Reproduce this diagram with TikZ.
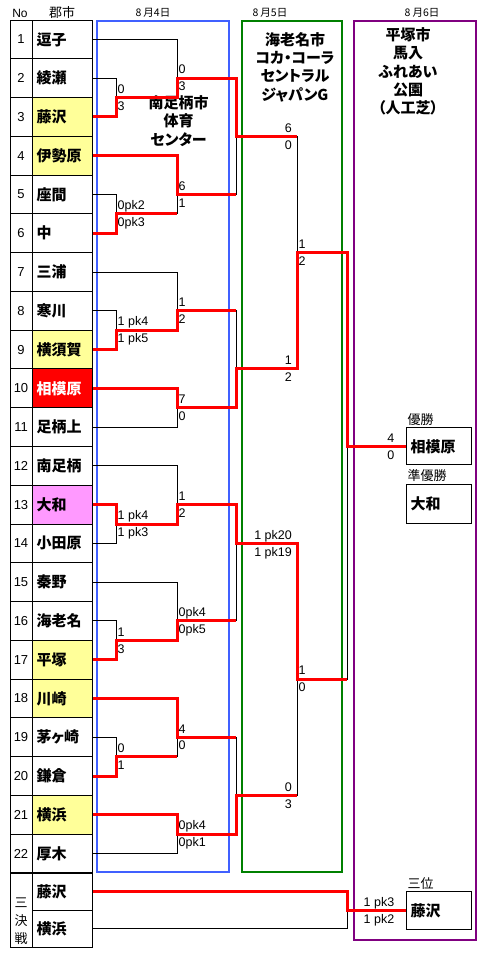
\documentclass[tikz,border=0pt]{standalone}
\usepackage{fontspec}
\setmainfont{Liberation Sans}
\newfontfamily\jp[RawFeature=+palt]{Noto Sans CJK JP}
\usetikzlibrary{positioning}

\definecolor{cellyel}{RGB}{255,255,153}
\definecolor{cellpink}{RGB}{255,153,255}
\definecolor{boxblue}{RGB}{64,96,255}
\definecolor{boxgreen}{RGB}{0,128,0}
\definecolor{boxpurple}{RGB}{128,0,128}

\tikzset{
  team/.style={draw, line width=1pt, anchor=west, minimum width=60pt, minimum height=38.77pt,
    text width=52pt, inner xsep=4pt, inner ysep=0pt, align=left,
    font=\jp\bfseries\fontsize{15}{15}\selectfont},
  numcell/.style={draw, line width=1pt, minimum width=22pt, minimum height=38.77pt, inner sep=0pt,
    font=\fontsize{13}{13}\selectfont},
  plainrow/.style={fill=white},
  yelrow/.style={fill=cellyel},
  pinkrow/.style={fill=cellpink},
  redrow/.style={fill=red, text=white},
  score/.style={inner xsep=1.5pt, inner ysep=4pt, text height=8.5pt, text depth=0pt,
    font=\fontsize{12.5}{12.5}\selectfont},
  wire/.style={line width=1pt},
  winwire/.style={red, line width=3pt},
  venue/.style={align=center, font=\jp\bfseries\fontsize{15}{18.3}\selectfont},
  result/.style={draw, line width=1pt, text width=57pt, inner xsep=4pt, inner ysep=0pt, align=left,
    anchor=west, font=\jp\bfseries\fontsize{15}{15}\selectfont},
  caption/.style={anchor=south west, inner sep=1.5pt, font=\jp\fontsize{13}{13}\selectfont},
  dayhead/.style={font=\jp\fontsize{10.5}{10.5}\selectfont}
}

\begin{document}
\begin{tikzpicture}[x=1pt, y=-1pt,
  declare function={yc(\i)=20+38.77*(\i-0.5); yb(\i)=20+38.77*\i;}]
  \useasboundingbox (0,0) rectangle (480,953);

  % Draw the venue boxes
  \draw[boxblue, line width=2pt] (97,21) rectangle (229,872);
  \draw[boxgreen, line width=2pt] (242,21) rectangle (342,872);
  \draw[boxpurple, line width=2pt] (354,21) rectangle (476,940);

  % Headers and dates
  \node (hno) at (20,13) {\fontsize{12}{12}\selectfont No};
  \node (hcity) at (62,13) {\jp\fontsize{13}{13}\selectfont 郡市};
  \node[dayhead] (day4) at (153,13) {8\hspace{2pt}月4日};
  \node[dayhead] (day5) at (270,13) {8\hspace{2pt}月5日};
  \node[dayhead] (day6) at (422,13) {8\hspace{2pt}月6日};

  % Venue names
  \node[venue] (venue4) at (178.5,121) {南足柄市\\体育\\センター};
  \node[venue] (venue5) at (295,67) {海老名市\\コカ・コーラ\\セントラル\\ジャパンG};
  \node[venue] (venue6) at (408,71.5) {平塚市\\馬入\\ふれあい\\公園\\（人工芝）};

  % Draw the table of teams
  \foreach \i/\name/\kind in {1/逗子/plainrow, 2/綾瀬/plainrow, 3/藤沢/yelrow, 4/伊勢原/yelrow,
      5/座間/plainrow, 6/中/plainrow, 7/三浦/plainrow, 8/寒川/plainrow, 9/横須賀/yelrow,
      10/相模原/redrow, 11/足柄上/plainrow, 12/南足柄/plainrow, 13/大和/pinkrow,
      14/小田原/plainrow, 15/秦野/plainrow, 16/海老名/plainrow, 17/平塚/yelrow,
      18/川崎/yelrow, 19/茅ヶ崎/plainrow, 20/鎌倉/plainrow, 21/横浜/yelrow, 22/厚木/plainrow}
  {
    \node[numcell] (n\i) at (21,{yc(\i)}) {\i};
    \node[team, \kind] (t\i) at (32,{yc(\i)}) {\name};
  }

  % Third place rows
  \draw[line width=1pt] (10,873) rectangle (32,947.5);
  \node[align=center, font=\jp\fontsize{13}{18}\selectfont] (thirdmark) at (21,921) {三\\決\\戦};
  \node[team, minimum height=37.5pt] (t23) at (32,891.75) {藤沢};
  \node[team, minimum height=37.5pt] (t24) at (32,928.75) {横浜};

  % Result boxes
  \node[result, minimum height=37pt] (champ) at (406,{yb(11)}) {相模原};
  \node[result, minimum height=39pt] (second) at (406,503.5) {大和};
  \node[result, minimum height=38pt] (third) at (406,910.5) {藤沢};
  \node[caption] (lchamp) at (champ.north west) {優勝};
  \node[caption] (lsecond) at (second.north west) {準優勝};
  \node[caption] (lthird) at (third.north west) {三位};

  % Joints of each round
  \foreach \k/\r in {23/2, 56/5, 89/8, 1314/13, 1617/16, 1920/19}
    \coordinate (k\k) at (116,{yb(\r)});
  \coordinate (j1) at (177,{yc(2)});
  \coordinate (j4) at (177,{yc(5)});
  \coordinate (j7) at (177,{yc(8)});
  \coordinate (j10) at (177,{yb(10)});
  \coordinate (j12) at (177,{yc(13)});
  \coordinate (j15) at (177,{yc(16)});
  \coordinate (j18) at (177,{yc(19)});
  \coordinate (j21) at (177,{yb(21)});
  \coordinate (s1) at (236,{yb(3)});
  \coordinate (s2) at (236,{yb(9)});
  \coordinate (s3) at (236,{yc(14)});
  \coordinate (s4) at (236,{yb(20)});
  \coordinate (semi1) at (297,{yb(6)});
  \coordinate (semi2) at (297,{yb(17)});
  \coordinate (fin) at (347,{yb(11)});
  \coordinate (bronze) at (347,910.5);

  % Draw the bracket lines
  \foreach \t/\k in {2/23, 3/23, 5/56, 6/56, 8/89, 9/89, 13/1314, 14/1314,
      16/1617, 17/1617, 19/1920, 20/1920}
    \draw[wire] (t\t.east) -| (k\k);
  \foreach \a/\b in {t1.east/j1, k23/j1, t4.east/j4, k56/j4, t7.east/j7, k89/j7,
      t10.east/j10, t11.east/j10, t12.east/j12, k1314/j12, t15.east/j15, k1617/j15,
      t18.east/j18, k1920/j18, t21.east/j21, t22.east/j21,
      j1/s1, j4/s1, j7/s2, j10/s2, j12/s3, j15/s3, j18/s4, j21/s4,
      s1/semi1, s2/semi1, s3/semi2, s4/semi2, semi1/fin, semi2/fin,
      t23.east/bronze, t24.east/bronze}
    \draw[wire] (\a) -| (\b);
  \draw[wire] (fin) -- (champ.west);
  \draw[wire] (bronze) -- (third.west);

  % Draw the winning paths
  \draw[winwire] (t3.east) -| (k23) -| (j1) -| (s1) -- (s1 -| semi1);
  \draw[winwire] (t4.east) -| (j4) -- (j4 -| s1);
  \draw[winwire] (t6.east) -| (k56) -- (k56 -| j4);
  \draw[winwire] (t9.east) -| (k89) -| (j7) -- (j7 -| s2);
  \draw[winwire] (t10.east) -| (j10) -| (s2) -| (semi1) -| (fin) -- (champ.west);
  \draw[winwire] (t13.east) -| (k1314) -| (j12) -| (s3) -| (semi2) -- (semi2 -| fin);
  \draw[winwire] (t17.east) -| (k1617) -| (j15) -- (j15 -| s3);
  \draw[winwire] (t18.east) -| (j18) -- (j18 -| s4);
  \draw[winwire] (t20.east) -| (k1920) -- (k1920 -| j18);
  \draw[winwire] (t21.east) -| (j21) -| (s4) -- (s4 -| semi2);
  \draw[winwire] (t23.east) -| (bronze) -- (third.west);

  % Scores of the first two rounds and the semi finals
  \foreach \c/\up/\dn in {k23/0/3, k56/0pk2/0pk3, k89/1 pk4/1 pk5, k1314/1 pk4/1 pk3,
      k1617/1/3, k1920/0/1, j1/0/3, j4/6/1, j7/1/2, j10/7/0, j12/1/2, j15/0pk4/0pk5,
      j18/4/0, j21/0pk4/0pk1, semi1/1/2, semi2/1/0}
  {
    \node[score, anchor=south west] (\c-up) at (\c) {\up};
    \node[score, anchor=north west] (\c-dn) at (\c) {\dn};
  }

  % Scores of the third round
  \foreach \c/\s/\up/\dn in {s1/semi1/6/0, s2/semi1/1/2, s3/semi2/1 pk20/1 pk19, s4/semi2/0/3}
  {
    \node[score, anchor=south east, xshift=-3.5pt] (\c-up) at (\c -| \s) {\up};
    \node[score, anchor=north east, xshift=-3.5pt] (\c-dn) at (\c -| \s) {\dn};
  }

  % Scores of the final and the third place match
  \node[score, anchor=south east, xshift=-10pt] (fin-up) at (champ.west) {4};
  \node[score, anchor=north east, xshift=-10pt] (fin-dn) at (champ.west) {0};
  \node[score, anchor=south east, xshift=-10pt] (bronze-up) at (third.west) {1 pk3};
  \node[score, anchor=north east, xshift=-10pt] (bronze-dn) at (third.west) {1 pk2};
\end{tikzpicture}
\end{document}
